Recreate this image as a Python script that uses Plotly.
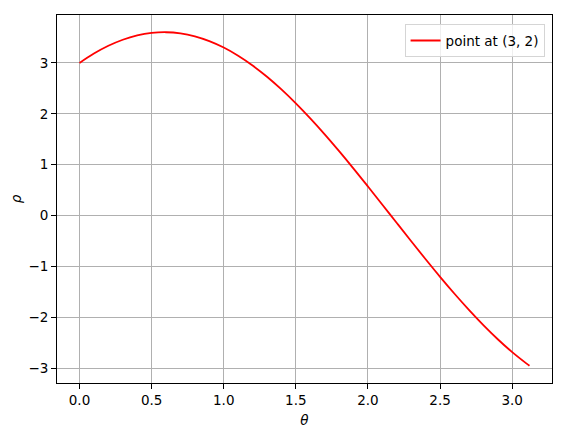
import plotly.graph_objects as go

# theta samples and rho values
theta = [0.0, 0.1, 0.2, 0.3, 0.4, 0.5, 0.6, 0.7, 0.8, 0.9, 1.0, 1.1, 1.2, 1.3,
         1.4, 1.5, 1.6, 1.7, 1.8, 1.9, 2.0, 2.1, 2.2, 2.3, 2.4, 2.5, 2.6, 2.7,
         2.8, 2.9, 3.0, 3.1, 3.12]
rho = [3.0, 3.185, 3.338, 3.457, 3.542, 3.591, 3.605, 3.583, 3.525, 3.431,
       3.304, 3.143, 2.951, 2.730, 2.481, 2.207, 1.911, 1.597, 1.266, 0.923,
       0.570, 0.212, -0.148, -0.507, -0.861, -1.207, -1.540, -1.857, -2.157,
       -2.434, -2.688, -2.914, -2.956]

x_ticks = [0.0, 0.5, 1.0, 1.5, 2.0, 2.5, 3.0]
y_ticks = [-3, -2, -1, 0, 1, 2, 3]

font = dict(family="DejaVu Sans", size=13.5, color="black")

fig = go.Figure()
fig.add_trace(go.Scatter(x=theta, y=rho, mode="lines", name="point at (3, 2)",
                         line=dict(color="red", width=1.8, shape="spline")))

axis_style = dict(showline=True, linecolor="black", linewidth=1, mirror=True,
                  ticks="outside", ticklen=5, tickcolor="black",
                  showgrid=True, gridcolor="#b0b0b0", gridwidth=1,
                  zeroline=False, tickfont=font, automargin=False)

fig.update_xaxes(range=[-0.156, 3.276], tickvals=x_ticks,
                 ticktext=["%.1f" % v for v in x_ticks],
                 title=dict(text="<i>θ</i>", font=font, standoff=8), **axis_style)
fig.update_yaxes(range=[-3.295, 3.944], tickvals=y_ticks,
                 ticktext=[str(v).replace("-", "\u2212") for v in y_ticks],
                 title=dict(text="<i>ρ</i>", font=font, standoff=14), **axis_style)

# page body adds an 8px offset, so the figure is sized and padded for that
fig.update_layout(
    width=554, height=424,
    margin=dict(l=49, r=10, t=7, b=49),
    plot_bgcolor="white", paper_bgcolor="white",
    font=font,
    showlegend=True,
    legend=dict(x=0.985, y=0.975, xanchor="right", yanchor="top",
                bgcolor="rgba(255,255,255,0.8)", bordercolor="#d5d5d5",
                borderwidth=1, font=font),
)

fig.write_html("out.html")
